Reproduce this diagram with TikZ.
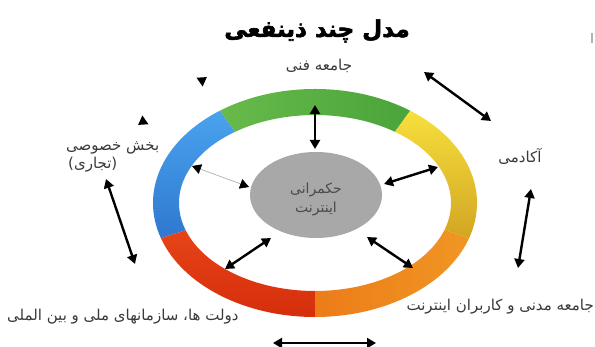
\documentclass[tikz,border=0pt]{standalone}
\usepackage{fontspec}
\usetikzlibrary{arrows.meta,calc,shapes.geometric}
\TeXXeTstate=1
\newfontfamily\arabicfont[Script=Arabic]{DejaVu Sans}
\newfontfamily\titlefont[Script=Arabic,FakeBold=2.5]{DejaVu Sans Bold}
\definecolor{labelgray}{HTML}{3A3A3A}
\definecolor{govgray}{HTML}{A8A8A8}
\definecolor{govtext}{HTML}{4A4A4A}
\begin{document}
\begin{tikzpicture}[x=1pt,y=1pt,
  lbl/.style={font=\arabicfont\fontsize{15}{17}\selectfont, text=labelgray, inner sep=0pt},
  tipb/.tip={Triangle[length=9pt,width=10pt,color=black,fill=black]},
  dbl/.style={line width=2.4pt, draw=black, tipb-tipb},
  thinarr/.style={line width=0.6pt, draw=gray!70, tipb-tipb},
  ghost/.style={line width=2.4pt, draw=white, tipb-tipb},
  seg/.style={draw=none}
]
\useasboundingbox (0,0) rectangle (595,347);
\fill[white] (0,0) rectangle (595,347);
\coordinate (c) at (315,144);
% ring segments
\shade[seg, left color={rgb,255:red,104;green,186;blue,74}, right color={rgb,255:red,74;green,164;blue,58}]
  ($(c)+(54:162 and 114)$) arc[start angle=54,end angle=126,x radius=162,y radius=114]
  -- ($(c)+(126:136 and 88)$) arc[start angle=126,end angle=54,x radius=136,y radius=88] -- cycle;
\shade[seg, top color={rgb,255:red,74;green,163;blue,238}, bottom color={rgb,255:red,47;green,120;blue,208}]
  ($(c)+(126:162 and 114)$) arc[start angle=126,end angle=198,x radius=162,y radius=114]
  -- ($(c)+(198:136 and 88)$) arc[start angle=198,end angle=126,x radius=136,y radius=88] -- cycle;
\shade[seg, top color={rgb,255:red,230;green,68;blue,24}, bottom color={rgb,255:red,214;green,46;blue,12}]
  ($(c)+(198:162 and 114)$) arc[start angle=198,end angle=270,x radius=162,y radius=114]
  -- ($(c)+(270:136 and 88)$) arc[start angle=270,end angle=198,x radius=136,y radius=88] -- cycle;
\shade[seg, left color={rgb,255:red,236;green,124;blue,24}, right color={rgb,255:red,240;green,150;blue,36}]
  ($(c)+(270:162 and 114)$) arc[start angle=270,end angle=342,x radius=162,y radius=114]
  -- ($(c)+(342:136 and 88)$) arc[start angle=342,end angle=270,x radius=136,y radius=88] -- cycle;
\shade[seg, top color={rgb,255:red,247;green,223;blue,60}, bottom color={rgb,255:red,210;green,166;blue,35}]
  ($(c)+(-18:162 and 114)$) arc[start angle=-18,end angle=54,x radius=162,y radius=114]
  -- ($(c)+(54:136 and 88)$) arc[start angle=54,end angle=-18,x radius=136,y radius=88] -- cycle;
% centre
\node[ellipse, fill=govgray, minimum width=132pt, minimum height=86pt, inner sep=0pt] (gov) at (316,152) {};
\node[font=\arabicfont\fontsize{14}{19}\selectfont, text=govtext, align=center] (govtxt) at (316,148)
  {\beginR حکمرانی\endR\\\beginR اینترنت\endR};
% title
\node[font=\titlefont\fontsize{23}{26}\selectfont, inner sep=0pt] (title) at (317,316) {\beginR مدل چند ذینفعی\endR};
% labels
\node[lbl] (tech) at (319,281) {\beginR جامعه فنی\endR};
\node[lbl] (acad) at (520,191) {\beginR آکادمی\endR};
\node[lbl, anchor=west] (priv1) at (66,199) {\beginR بخش خصوصی\endR};
\node[lbl, anchor=west] (priv2) at (68,182) {\beginR (تجاری)\endR};
\node[lbl, anchor=west] (govs) at (7,30) {\beginR دولت ها، سازمانهای ملی و بین الملی\endR};
\node[lbl, anchor=east] (civil) at (594,40) {\beginR جامعه مدنی و کاربران اینترنت\endR};
% arrow end points
\coordinate (a1s) at (315,242); \coordinate (a1e) at (315,198);
\coordinate (a2s) at (384,163); \coordinate (a2e) at (438,180);
\coordinate (a3s) at (249,160); \coordinate (a3e) at (192,181);
\coordinate (a4s) at (271,109); \coordinate (a4e) at (225,78);
\coordinate (a5s) at (367,110); \coordinate (a5e) at (413,79);
\coordinate (a6s) at (424,275); \coordinate (a6e) at (491,226);
\coordinate (a7s) at (531,158); \coordinate (a7e) at (518,79);
\coordinate (a8s) at (273,4);   \coordinate (a8e) at (376,4);
\coordinate (a9s) at (106,168); \coordinate (a9e) at (135,83);
\coordinate (a10s) at (207,270); \coordinate (a10e) at (138,222);
\draw[dbl] (a1s) -- (a1e);
\draw[dbl] (a2s) -- (a2e);
\draw[thinarr] (a3s) -- (a3e);
\draw[dbl] (a4s) -- (a4e);
\draw[dbl] (a5s) -- (a5e);
\draw[dbl] (a6s) -- (a6e);
\draw[dbl] (a7s) -- (a7e);
\draw[dbl] (a8s) -- (a8e);
\draw[dbl] (a9s) -- (a9e);
\draw[ghost] (a10s) -- (a10e);
% small mark at right edge
\fill[gray!60] (591,304) rectangle (593,314);
\end{tikzpicture}
\end{document}
